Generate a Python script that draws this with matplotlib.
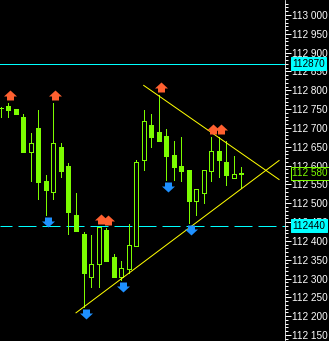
import numpy as np
import matplotlib.pyplot as plt
import matplotlib.transforms as mtransforms
from matplotlib.path import Path
from matplotlib.ticker import MultipleLocator, FuncFormatter

# OHLC candles, oldest first
opens = [112.753, 112.758, 112.750, 112.729, 112.636, 112.700, 112.559, 112.530,
         112.649, 112.599, 112.469, 112.418, 112.304, 112.339, 112.429, 112.357,
         112.304, 112.325, 112.386, 112.615, 112.708, 112.689, 112.679, 112.628,
         112.599, 112.588, 112.506, 112.527, 112.586, 112.639, 112.610, 112.567,
         112.578]
highs = [112.756, 112.766, 112.750, 112.737, 112.687, 112.748, 112.575, 112.766,
         112.660, 112.607, 112.527, 112.424, 112.416, 112.437, 112.434, 112.365,
         112.347, 112.445, 112.615, 112.748, 112.737, 112.788, 112.697, 112.665,
         112.676, 112.588, 112.538, 112.588, 112.676, 112.676, 112.665, 112.626,
         112.596]
lows = [112.729, 112.729, 112.737, 112.636, 112.559, 112.511, 112.469, 112.511,
        112.570, 112.418, 112.426, 112.224, 112.278, 112.278, 112.347, 112.304,
        112.296, 112.315, 112.386, 112.588, 112.649, 112.665, 112.562, 112.562,
        112.559, 112.448, 112.469, 112.501, 112.559, 112.570, 112.549, 112.567,
        112.541]
closes = [112.753, 112.748, 112.737, 112.636, 112.660, 112.556, 112.535, 112.660,
          112.586, 112.477, 112.426, 112.315, 112.339, 112.437, 112.347, 112.304,
          112.328, 112.389, 112.610, 112.718, 112.676, 112.665, 112.626, 112.596,
          112.586, 112.506, 112.538, 112.588, 112.639, 112.615, 112.575, 112.578,
          112.580]

# fractal bars (index of candle)
up_fractals = [1, 7, 13, 14, 21, 28, 29]
down_fractals = [6, 11, 16, 22, 25]

level_solid = 112.870
level_dashed = 112.440
last_price = 112.580

# trendline anchors (bar index, price)
trend_down_x = [19, 37]
trend_down_y = [112.813, 112.563]
trend_up_x = [10, 37]
trend_up_y = [112.209, 112.6135]

green = '#7CFC00'
red = '#FF6030'
blue = '#1E90FF'

W, H = 329, 341
fig = plt.figure(figsize=(W / 72, H / 72), dpi=72, facecolor='black')
ax = fig.add_axes([0, 0, 285 / W, 1])
ax.set_facecolor('black')
ax.set_xlim(-0.106, 37.79)
ax.set_ylim(112.1341, 113.0398)

# levels
ax.axhline(level_solid, color='cyan', lw=1, zorder=1)
ax.axhline(level_dashed, color='cyan', lw=1, linestyle=(6, (18, 6)), zorder=1)

# candles
x = np.arange(len(opens))
o = np.array(opens)
c = np.array(closes)
bull = c >= o
ax.vlines(x, lows, highs, color=green, lw=1, zorder=2, antialiased=False)
bottom = np.minimum(o, c)
height = np.abs(c - o)
ax.bar(x, height, 4 / 7.52, bottom, color=np.where(bull, 'black', green),
       edgecolor=green, lw=1, zorder=3, antialiased=False)

# trendlines
ax.plot(trend_down_x, trend_down_y, color='yellow', lw=1, zorder=4)
ax.plot(trend_up_x, trend_up_y, color='yellow', lw=1, zorder=4)

# fractal arrows
up_verts = [(0, 5), (6.5, -1), (3.5, -1), (3.5, -5), (-3.5, -5), (-3.5, -1), (-6.5, -1), (0, 5)]
up_arrow = Path(up_verts, closed=True)
down_arrow = Path([(vx, -vy) for vx, vy in up_verts], closed=True)
up_tr = ax.transData + mtransforms.ScaledTranslation(2 / 72, 8 / 72, fig.dpi_scale_trans)
dn_tr = ax.transData + mtransforms.ScaledTranslation(2 / 72, -7 / 72, fig.dpi_scale_trans)
ax.plot(up_fractals, [highs[i] for i in up_fractals], ls='none', marker=up_arrow,
        ms=13, color=red, mew=0, transform=up_tr, zorder=5)
ax.plot(down_fractals, [lows[i] for i in down_fractals], ls='none', marker=down_arrow,
        ms=13, color=blue, mew=0, transform=dn_tr, zorder=5)

# price axis
for s in ['left', 'top', 'bottom']:
    ax.spines[s].set_visible(False)
ax.spines['right'].set_color('white')
ax.set_xticks([])
ax.yaxis.tick_right()
ax.yaxis.set_major_locator(MultipleLocator(0.05))
ax.yaxis.set_minor_locator(MultipleLocator(0.01))
ax.yaxis.set_major_formatter(FuncFormatter(lambda v, p: f"{v:.3f}".replace('.', ' ')))
ax.tick_params(axis='y', which='major', length=6, width=1, colors='white',
               labelsize=10, pad=1)
ax.tick_params(axis='y', which='minor', length=3, width=1, colors='white')
for t in ax.get_yticklabels():
    t.set_family('Liberation Sans')

ytr = ax.get_yaxis_transform()
def price_tag(val, text, fc, ec, tc):
    ax.annotate(text, xy=(1, val), xycoords=ytr, xytext=(7, 0), textcoords='offset points',
                va='center', ha='left', color=tc, fontsize=10, family='Liberation Sans',
                bbox=dict(boxstyle='square,pad=0.15', fc=fc, ec=ec, lw=1),
                annotation_clip=False, zorder=10)

price_tag(level_solid, f"{level_solid:.3f}".replace('.', ''), 'cyan', 'cyan', 'black')
price_tag(level_dashed, f"{level_dashed:.3f}".replace('.', ''), 'cyan', 'cyan', 'black')
price_tag(last_price, f"{last_price:.3f}".replace('.', ' '), 'black', green, green)

fig.savefig('out.png', dpi=72, facecolor='black')
